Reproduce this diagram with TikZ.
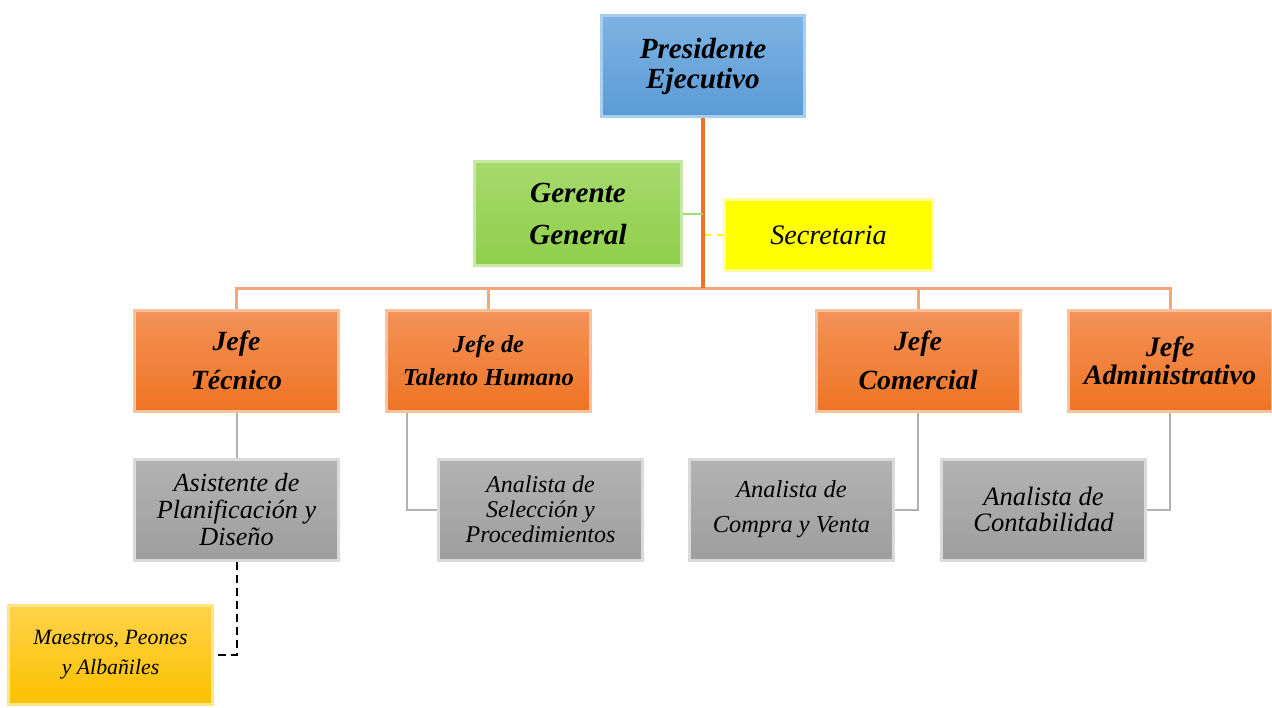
\documentclass[tikz,border=0pt]{standalone}
\usepackage{fontspec}
\setmainfont{Liberation Serif}
\usetikzlibrary{positioning}
\definecolor{azul}{HTML}{5B9BD5}
\definecolor{azulclaro}{HTML}{7DB3E3}
\definecolor{azulborde}{HTML}{A9CDEE}
\definecolor{verde}{HTML}{8FCF4C}
\definecolor{verdeclaro}{HTML}{A6DA6C}
\definecolor{verdeborde}{HTML}{C8E8A6}
\definecolor{amarillo}{HTML}{FFFF00}
\definecolor{amarilloborde}{HTML}{FFFF9A}
\definecolor{naranja}{HTML}{EE7424}
\definecolor{naranjaclaro}{HTML}{F49258}
\definecolor{naranjaborde}{HTML}{F9C29C}
\definecolor{gris}{HTML}{9E9E9E}
\definecolor{grisclaro}{HTML}{B3B3B3}
\definecolor{grisborde}{HTML}{DADADA}
\definecolor{oro}{HTML}{FBC000}
\definecolor{oroclaro}{HTML}{FFD34A}
\definecolor{oroborde}{HTML}{FFE58A}
\definecolor{lineanaranja}{HTML}{F3A67A}

\begin{document}
\begin{tikzpicture}[x=0.5pt,y=-0.5pt, caja/.style={rectangle,line width=1.5pt,minimum width=102pt,minimum height=50.5pt,inner sep=1pt,align=center}, presbox/.style={caja,top color=azulclaro,bottom color=azul,draw=azulborde}, gerbox/.style={caja,top color=verdeclaro,bottom color=verde,draw=verdeborde}, secbox/.style={caja,fill=amarillo,draw=amarilloborde}, jefebox/.style={caja,top color=naranjaclaro,bottom color=naranja,draw=naranjaborde}, anabox/.style={caja,top color=grisclaro,bottom color=gris,draw=grisborde}, obrabox/.style={caja,top color=oroclaro,bottom color=oro,draw=oroborde}, tronco/.style={draw=naranja,line width=2pt}, rama/.style={draw=lineanaranja,line width=1.5pt}, gline/.style={draw=gris!80,line width=1pt}]
\useasboundingbox (0,0) rectangle (1272,707);
\node[presbox,minimum width=101.5pt,font=\fontsize{14.6}{15}\selectfont\bfseries\itshape] (pres) at (703,66) {Presidente\\Ejecutivo};
\node[gerbox,minimum width=103.5pt,minimum height=52pt,font=\fontsize{14.6}{21}\selectfont\bfseries\itshape] (ger) at (578,213.5) {Gerente\\General};
\node[secbox,minimum width=104pt,minimum height=35.5pt,font=\fontsize{14.1}{15}\selectfont\itshape] (sec) at (828.5,235) {Secretaria};
\node[jefebox,font=\fontsize{13.9}{19.5}\selectfont\bfseries\itshape] (tec) at (236.5,360.5) {Jefe\\Técnico};
\node[jefebox,right=22.5pt of tec,font=\fontsize{12.2}{16.5}\selectfont\bfseries\itshape] (tal) {Jefe de\\Talento Humano};
\node[jefebox,font=\fontsize{13.9}{19.5}\selectfont\bfseries\itshape] (com) at (918,360.5) {Jefe\\Comercial};
\node[jefebox,right=22.5pt of com,font=\fontsize{14.1}{14}\selectfont\bfseries\itshape] (adm) {Jefe\\Administrativo};
\node[anabox,below=22.5pt of tec,font=\fontsize{13.1}{13.5}\selectfont\itshape] (asi) {Asistente de\\Planificación y\\Diseño};
\node[anabox,right=48.5pt of asi,font=\fontsize{12}{12.5}\selectfont\itshape] (sel) {Analista de\\Selección y\\Procedimientos};
\node[anabox,right=22pt of sel,font=\fontsize{12.2}{17.5}\selectfont\itshape] (cv) {Analista de\\Compra y Venta};
\node[anabox,right=22.5pt of cv,font=\fontsize{13.3}{13}\selectfont\itshape] (cont) {Analista de\\Contabilidad};
\node[obrabox,minimum height=49.5pt,font=\fontsize{10.9}{15}\selectfont\itshape] (mae) at (110.5,655) {Maestros, Peones\\y Albañiles};
\coordinate (bus) at (pres.south |- 0,288);
\draw[rama] (tec.north) |- (bus) -| (adm.north);
\draw[rama] (tal.north) |- (bus);
\draw[rama] (com.north) |- (bus);
\draw[tronco] (pres.south) -- (bus);
\draw[draw=verdeclaro,line width=1pt] (ger.east) -- (ger.east -| pres.south);
\draw[draw=amarillo,line width=1pt,dashed] (sec.west) -- (sec.west -| pres.south);
\draw[gline] (tec.south) -- (asi.north);
\draw[gline] ([xshift=11pt]tal.south west) |- (sel.west);
\draw[gline] (com.south) |- (cv.east);
\draw[gline] (adm.south) |- (cont.east);
\draw[line width=1pt,dash pattern=on 4pt off 2.5pt] (asi.south) |- (mae.east);
\end{tikzpicture}
\end{document}
